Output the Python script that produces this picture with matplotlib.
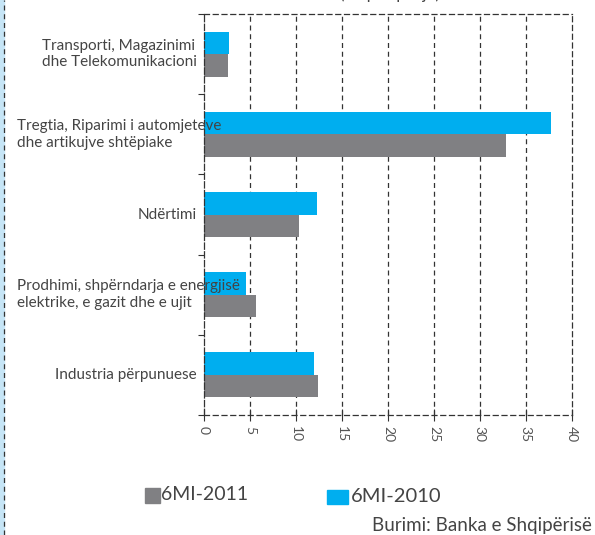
import numpy as np
import matplotlib.pyplot as plt
import matplotlib.transforms as mtransforms
from matplotlib.lines import Line2D
from matplotlib.patches import Rectangle

# ---------------------------------------------------------------
# Data
# ---------------------------------------------------------------
categories = ['Transporti, Magazinimi\ndhe Telekomunikacioni',
              'Tregtia, Riparimi i automjeteve\ndhe artikujve shtëpiake',
              'Ndërtimi',
              'Prodhimi, shpërndarja e energjisë\nelektrike, e gazit dhe e ujit',
              'Industria përpunuese']
values_2010 = [2.7, 37.7, 12.3, 4.6, 12.0]
values_2011 = [2.6, 32.8, 10.3, 5.6, 12.4]
x_ticks = [0, 5, 10, 15, 20, 25, 30, 35, 40]

blue = '#00aeef'
gray = '#808083'
txt = '#444444'

plt.rcParams['font.family'] = ['Lato', 'DejaVu Sans']

W, H = 595, 535

# ---------------------------------------------------------------
# Plot
# ---------------------------------------------------------------
fig = plt.figure(figsize=(W / 100, H / 100), dpi=100)
ax = fig.add_axes([0.343, 0.2243, 0.618, 0.7495])

y = np.arange(len(categories))
h = 0.28
for v in x_ticks[1:-1]:
    ax.axvline(v, linestyle=(0, (4, 3)), color='#333333', linewidth=0.9, zorder=1)
ax.barh(y - h / 2, values_2010, height=h, color=blue, zorder=2)
ax.barh(y + h / 2, values_2011, height=h, color=gray, zorder=2)

ax.set_xlim(0, 40)
ax.set_ylim(len(categories) - 0.5, -0.5)
ax.set_xticks(x_ticks)
ax.set_xticklabels([str(v) for v in x_ticks], rotation=-90, fontsize=10, color='#555555')
ax.tick_params(axis='x', direction='inout', length=8, color='#333333', pad=4)

ax.set_yticks(np.arange(-0.5, len(categories), 1.0))
ax.set_yticklabels([])
ax.tick_params(axis='y', direction='out', length=4, color='#333333')

for s in ax.spines.values():
    s.set_linestyle((0, (4, 3)))
    s.set_color('#333333')
    s.set_linewidth(0.9)
ax.spines['left'].set_linestyle((0, (5, 2)))

# category labels: right edge near the axis, long ones start at the left margin
trans = mtransforms.blended_transform_factory(fig.transFigure, ax.transData)
labels = []
for yi, cat in zip(y, categories):
    labels.append(ax.text(197 / W, yi, cat, transform=trans, ha='right', va='center',
                          multialignment='left', fontsize=11, color=txt,
                          linespacing=1.25, zorder=5, clip_on=False))
fig.canvas.draw()
for t in labels:
    if t.get_window_extent().x0 < 17:
        t.set_x(17 / W)
        t.set_ha('left')

# title cut off at the top
fig.text(0.655, 1.012, '(në përqindje)', ha='center', va='center', fontsize=12, color=txt)

# left page border
fig.add_artist(Rectangle((0, 0), 0.006, 1, transform=fig.transFigure, color='#c6e5f6', zorder=0))
fig.add_artist(Line2D([0.006, 0.006], [0, 1], transform=fig.transFigure,
                      color='#333333', linestyle=(0, (4, 3)), linewidth=0.9))

# legend
fig.add_artist(Rectangle((145 / W, 1 - 503 / H), 15 / W, 15 / H,
                         transform=fig.transFigure, color=gray))
fig.text(161 / W, 1 - 495 / H, '6MI-2011', va='center', fontsize=14, color=txt)
fig.add_artist(Rectangle((327 / W, 1 - 504 / H), 21 / W, 14 / H,
                         transform=fig.transFigure, color=blue))
fig.text(351 / W, 1 - 497 / H, '6MI-2010', va='center', fontsize=14.5, color=txt)
fig.text(372 / W, 1 - 525 / H, 'Burimi: Banka e Shqipërisë', va='center', fontsize=13.5, color=txt)

fig.savefig('out.png', dpi=100)
